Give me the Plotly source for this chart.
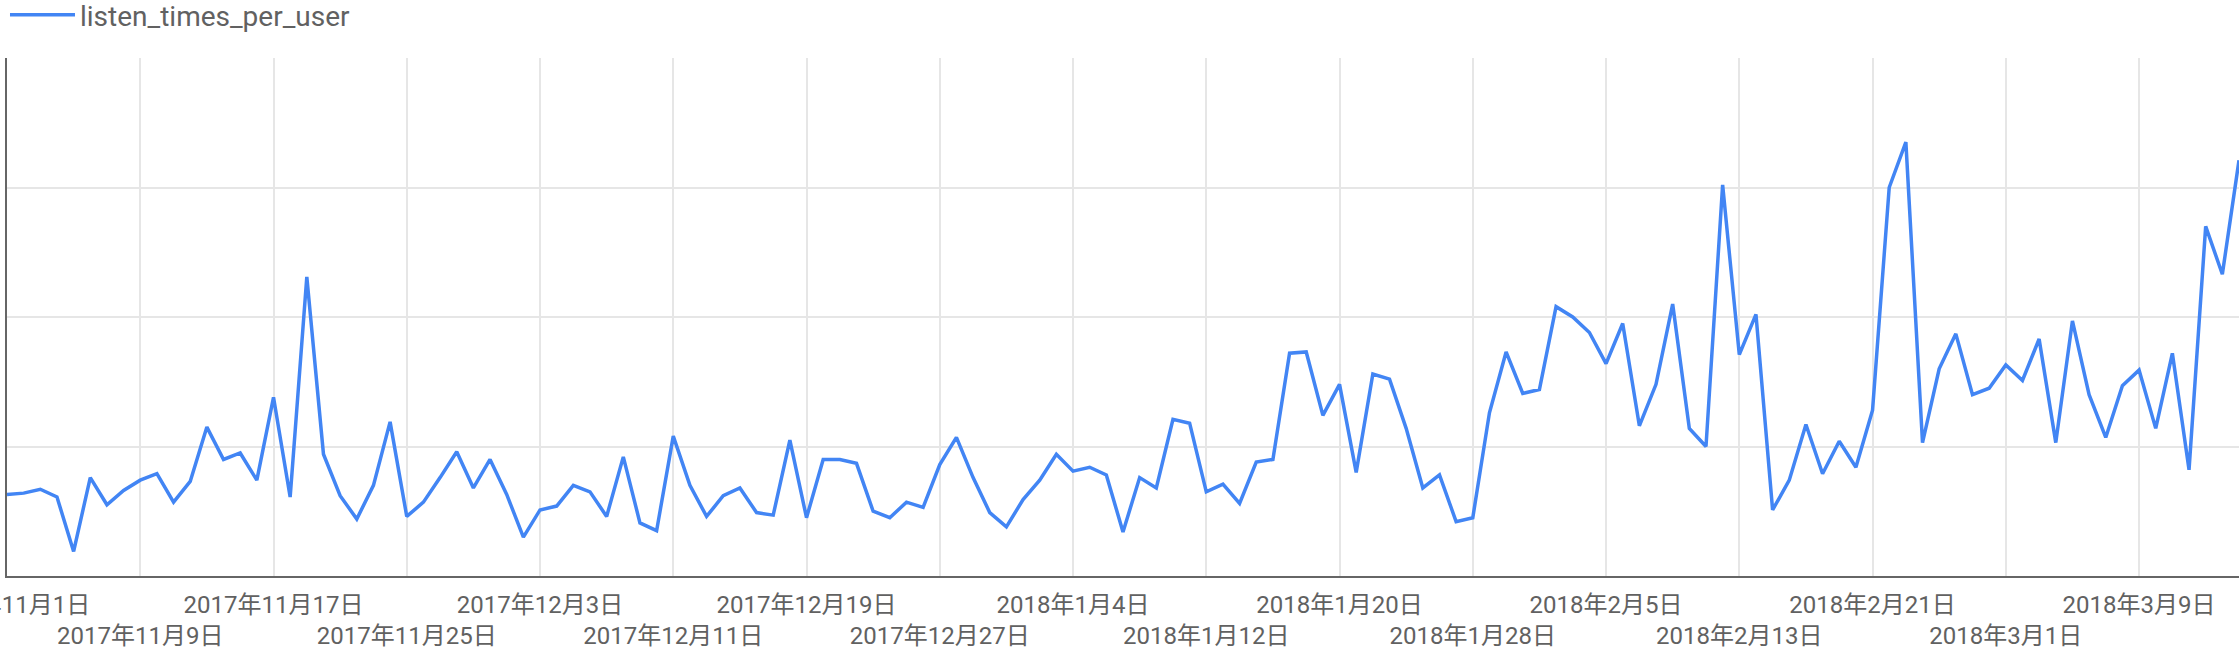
import pandas as pd
import plotly.graph_objects as go

# ---- data (daily values, 2017-11-01 .. 2018-03-15) ----
start_date = "2017-11-01"
series_name = "listen_times_per_user"

values_nov = [6.3, 6.4, 6.7, 6.1, 1.9, 7.6, 5.5, 6.6, 7.4, 7.9,
              5.7, 7.3, 11.5, 9.0, 9.5, 7.4, 13.8, 6.1, 23.1, 9.4,
              6.2, 4.4, 7.0, 11.9, 4.6, 5.7, 7.6, 9.6, 6.8, 9.0,
              6.3, 3.0, 5.1, 5.4]
values_dec = [7.0, 6.5, 4.6, 9.2, 4.1, 3.5, 10.8, 7.0, 4.6, 6.2,
              6.8, 4.9, 4.7, 10.5, 4.5, 9.0, 9.0, 8.7, 5.0, 4.5,
              5.7, 5.3, 8.6, 10.7, 7.6, 4.9, 3.8, 5.9, 7.4, 9.4,
              8.1, 8.4, 7.8]
values_jan = [3.4, 7.6, 6.8, 12.1, 11.8, 6.5, 7.1, 5.6, 8.8, 9.0,
              17.2, 17.3, 12.4, 14.8, 8.0, 15.6, 15.2, 11.4, 6.8, 7.8,
              4.2, 4.5, 12.6, 17.3, 14.1, 14.4, 20.8, 20.0, 18.8, 16.4,
              19.5, 11.6, 14.8, 21.0]
values_feb = [11.4, 10.0, 30.2, 17.1, 20.2, 5.1, 7.4, 11.7, 7.9, 10.4,
              8.4, 12.8, 30.0, 33.5, 10.3, 16.0, 18.7, 14.0, 14.5, 16.3,
              15.1, 18.3, 10.3, 19.7, 14.0, 10.7, 14.7, 15.9, 11.4, 17.2,
              8.2, 27.0, 23.3, 32.1]

listen_times_per_user = values_nov + values_dec + values_jan + values_feb
dates = pd.date_range(start_date, periods=len(listen_times_per_user), freq="D")

tick_dates = ["2017-11-01", "2017-11-09", "2017-11-17", "2017-11-25",
              "2017-12-03", "2017-12-11", "2017-12-19", "2017-12-27",
              "2018-01-04", "2018-01-12", "2018-01-20", "2018-01-28",
              "2018-02-05", "2018-02-13", "2018-02-21", "2018-03-01",
              "2018-03-09"]
tick_labels = ["2017年11月1日", "2017年11月9日", "2017年11月17日", "2017年11月25日",
               "2017年12月3日", "2017年12月11日", "2017年12月19日", "2017年12月27日",
               "2018年1月4日", "2018年1月12日", "2018年1月20日", "2018年1月28日",
               "2018年2月5日", "2018年2月13日", "2018年2月21日", "2018年3月1日",
               "2018年3月9日"]
# alternate labels onto a second row
tick_text = [t if i % 2 == 0 else "<br>" + t for i, t in enumerate(tick_labels)]

FONT = "Roboto, 'Noto Sans CJK JP', sans-serif"

fig = go.Figure(
    go.Scatter(
        x=dates,
        y=listen_times_per_user,
        mode="lines",
        name=series_name,
        line=dict(color="#4285F4", width=3.5),
    )
)

fig.update_layout(
    template="none",
    width=2240,
    height=648,
    margin=dict(l=7, r=1, t=58, b=72, autoexpand=False),
    paper_bgcolor="white",
    plot_bgcolor="white",
    showlegend=True,
    font=dict(family=FONT, color="#616161"),
    legend=dict(
        x=-0.0009, y=1.083, xanchor="left", yanchor="middle",
        orientation="h",
        font=dict(family=FONT, size=28, color="#616161"),
        bgcolor="rgba(0,0,0,0)",
        itemwidth=65,
    ),
    xaxis=dict(
        type="date",
        range=[dates[0], dates[-1]],
        tickmode="array",
        tickvals=tick_dates,
        ticktext=tick_text,
        tickangle=0,
        ticklabeloverflow="allow",
        showgrid=True,
        gridcolor="#e6e6e6",
        gridwidth=2,
        showline=True,
        linecolor="#666666",
        linewidth=2,
        zeroline=False,
        ticks="",
        ticklabelstandoff=6,
        tickfont=dict(family=FONT, size=24, color="#616161"),
    ),
    yaxis=dict(
        range=[0, 40],
        dtick=10,
        tick0=0,
        showticklabels=False,
        showgrid=True,
        gridcolor="#e6e6e6",
        gridwidth=2,
        showline=True,
        linecolor="#666666",
        linewidth=2,
        zeroline=False,
        ticks="",
    ),
)

fig.write_html(
    "out.html",
    config={"displayModeBar": False},
    post_script="document.body.style.margin='0px';",
)
